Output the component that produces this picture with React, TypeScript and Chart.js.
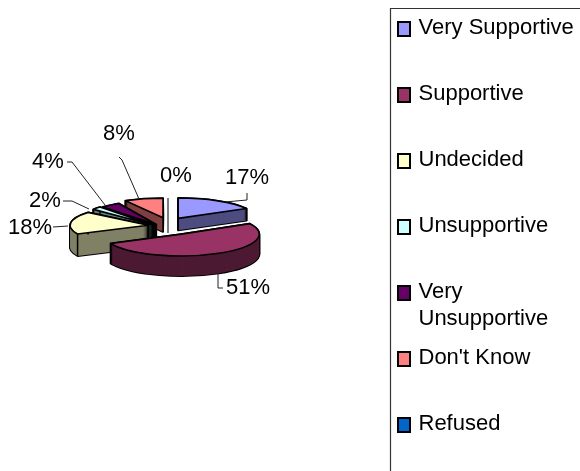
import React, { useEffect, useRef } from "react";
import { Chart, registerables } from "chart.js";

Chart.register(...registerables);

const categories = ["Very Supportive", "Supportive", "Undecided", "Unsupportive", "Very Unsupportive", "Don't Know", "Refused"];
const legendLines = [["Very Supportive"], ["Supportive"], ["Undecided"], ["Unsupportive"], ["Very", "Unsupportive"], ["Don't Know"], ["Refused"]];
const values = [17, 51, 18, 2, 4, 8, 0];
const topColors = ["#9999FF", "#993366", "#FFFFCC", "#CCFFFF", "#660066", "#FF8080", "#0066CC"];
const sideColors = ["#4D4D80", "#4D1A33", "#808066", "#668080", "#330033", "#804040", "#003366"];
const explode = [20, 38, 20, 20, 20, 20, 0];
const depths = [12, 20, 22, 12, 12, 14, 10];
const squash = [0.26, 0.28, 0.26, 0.32, 0.31, 0.25, 0.32];
const nudgeX = [0, -4, 0, 0, 0, 0, 0];
const nudgeY = [0, 2, 3, 6, 6, 0, 0];
const drawOrder = [6, 5, 4, 3, 0, 2, 1];

const FONT = '22px "Liberation Sans", Arial, sans-serif';
const BASE_SQUASH = 0.27;
const CENTER_Y = 223;
const labelAnchors: [number, number][] = [[247, 178], [248, 288], [30, 228], [45, 201], [48, 162], [119, 134], [176, 176]];
const leaders: [number, number][][] = [
  [[247, 193], [247, 200], [225, 202]],
  [[218, 273], [218, 288], [223, 288]],
  [[53, 227], [68, 226]],
  [[63, 201], [72, 201], [89, 209]],
  [[67, 162], [72, 162], [105, 205]],
  [[119, 157], [122, 160], [139, 199]],
  [],
];

const pie3d = {
  id: "pie3d",
  beforeDatasetsDraw(chart: any) {
    const ctx: CanvasRenderingContext2D = chart.ctx;
    const arcs = chart.getDatasetMeta(0).data;

    const sliceCenter = (a: any, i: number): [number, number] => {
      const off = a.options.offset;
      const mid = (a.startAngle + a.endAngle) / 2;
      return [
        a.x + Math.cos(mid) * off + nudgeX[i],
        CENTER_Y + Math.sin(mid) * off * BASE_SQUASH + nudgeY[i],
      ];
    };

    const tracePath = (a: any, i: number, d: number) => {
      const [sx, sy] = sliceCenter(a, i);
      ctx.save();
      ctx.translate(sx, sy + d);
      ctx.scale(1, squash[i]);
      ctx.beginPath();
      ctx.moveTo(0, 0);
      ctx.arc(0, 0, a.outerRadius, a.startAngle, a.endAngle);
      ctx.closePath();
      ctx.restore();
    };

    ctx.save();
    ctx.lineJoin = "round";
    for (const i of drawOrder) {
      const a = arcs[i];
      const depth = depths[i];
      const [sx, sy] = sliceCenter(a, i);
      const rim = (ang: number): [number, number] => [
        sx + Math.cos(ang) * a.outerRadius,
        sy + Math.sin(ang) * a.outerRadius * squash[i],
      ];

      if (values[i] === 0) {
        const [x1, y1] = rim(a.startAngle);
        ctx.strokeStyle = "#000";
        ctx.lineWidth = 1;
        ctx.beginPath();
        ctx.moveTo(sx, sy + depth);
        ctx.lineTo(x1, y1);
        ctx.stroke();
        continue;
      }

      ctx.strokeStyle = "#000";
      ctx.lineWidth = 2;
      for (let d = depth; d >= 0; d--) {
        tracePath(a, i, d);
        ctx.stroke();
      }
      ctx.fillStyle = sideColors[i];
      for (let d = depth; d >= 0; d--) {
        tracePath(a, i, d);
        ctx.fill();
      }
      ctx.lineWidth = 1.5;
      const corners: [number, number][] = [[sx, sy], rim(a.startAngle), rim(a.endAngle)];
      for (const [px, py] of corners) {
        ctx.beginPath();
        ctx.moveTo(px, py);
        ctx.lineTo(px, py + depth);
        ctx.stroke();
      }
      tracePath(a, i, 0);
      ctx.fillStyle = topColors[i];
      ctx.fill();
      ctx.lineWidth = 1.6;
      ctx.stroke();
    }
    ctx.restore();
    return false;
  },
  afterDraw(chart: any) {
    const ctx: CanvasRenderingContext2D = chart.ctx;
    ctx.save();
    ctx.font = FONT;
    ctx.fillStyle = "#000";
    ctx.textAlign = "center";
    ctx.textBaseline = "middle";
    values.forEach((v, i) => ctx.fillText(`${v}%`, labelAnchors[i][0], labelAnchors[i][1]));
    ctx.strokeStyle = "#222";
    ctx.lineWidth = 1;
    for (const pts of leaders) {
      if (!pts.length) continue;
      ctx.beginPath();
      pts.forEach(([x, y], k) => (k ? ctx.lineTo(x, y) : ctx.moveTo(x, y)));
      ctx.stroke();
    }

    ctx.strokeStyle = "#333";
    ctx.lineWidth = 1.2;
    ctx.beginPath();
    ctx.moveTo(390.5, 471);
    ctx.lineTo(390.5, 8.5);
    ctx.lineTo(580, 8.5);
    ctx.stroke();

    ctx.textAlign = "left";
    legendLines.forEach((lines, i) => {
      const rowY = 29 + i * 66;
      ctx.fillStyle = topColors[i];
      ctx.fillRect(398, rowY - 7, 12, 14);
      ctx.strokeStyle = "#000";
      ctx.lineWidth = 2;
      ctx.strokeRect(398, rowY - 7, 12, 14);
      ctx.fillStyle = "#000";
      lines.forEach((t, k) => ctx.fillText(t, 418.5, rowY - 1 + k * 27));
    });
    ctx.restore();
  },
};

export default function App() {
  const ref = useRef<HTMLCanvasElement>(null);
  useEffect(() => {
    document.body.style.margin = "0";
    const chart = new Chart(ref.current!, {
      type: "pie",
      data: {
        labels: categories,
        datasets: [{ data: values, backgroundColor: topColors, offset: explode, borderWidth: 0 }],
      },
      options: {
        animation: false,
        responsive: false,
        radius: 78,
        layout: { padding: { left: 0, right: 244, top: 0, bottom: 0 } },
        plugins: { legend: { display: false }, tooltip: { enabled: false } },
      } as any,
      plugins: [pie3d as any],
    });
    return () => chart.destroy();
  }, []);
  return <canvas ref={ref} width={580} height={471} style={{ display: "block", width: 580, height: 471, background: "#fff" }} />;
}
